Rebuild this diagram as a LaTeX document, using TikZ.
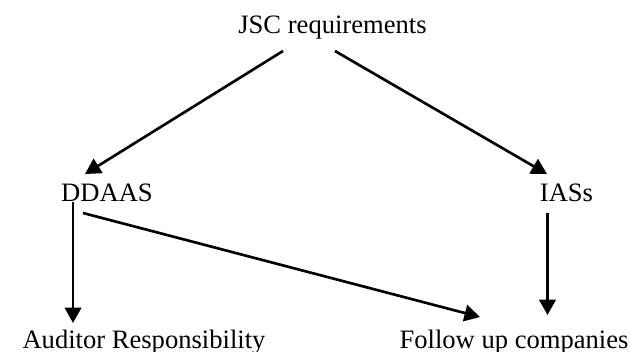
\documentclass[tikz,border=0pt]{standalone}
\usepackage{fontspec}
\setmainfont{Liberation Serif}
\usepackage{tikz}
\usetikzlibrary{calc}
\usetikzlibrary{positioning}
\usetikzlibrary{arrows.meta}

\begin{document}
\begin{tikzpicture}[x=0.015873cm, y=-0.015873cm,
        every node/.style={font=\fontsize{12}{14}\selectfont, inner sep=0pt, anchor=base},
        >={Triangle[length=7pt,width=7.5pt]}, line width=1.2pt]
            \useasboundingbox (0,0) rectangle (630,351);
            \node (jsc) at (332.5,33) {JSC requirements};
            \node (ddaas) at (107,201) {DDAAS};
            \node (iass) at (566.5,201) {IASs};
            \node (auditor) at (144,348) {Auditor Responsibility};
            \node (follow) at (514,348) {Follow up companies};
            \draw[->] ($(jsc.base)+(-49.5,18)$) -- ($(ddaas.base)+(-22,-27)$);
            \draw[->] ($(jsc.base)+(2.5,18)$) -- ($(iass.base)+(-19.5,-27)$);
            \draw[->] ($(ddaas.base)+(-34,1)$) -- ($(auditor.base)+(-71,-25)$);
            \draw[->] ($(ddaas.base)+(-24,12)$) -- ($(follow.base)+(-34,-31)$);
            \draw[->] ($(iass.base)+(-19,12)$) -- ($(follow.base)+(33.5,-33)$);
        \end{tikzpicture}
\end{document}
